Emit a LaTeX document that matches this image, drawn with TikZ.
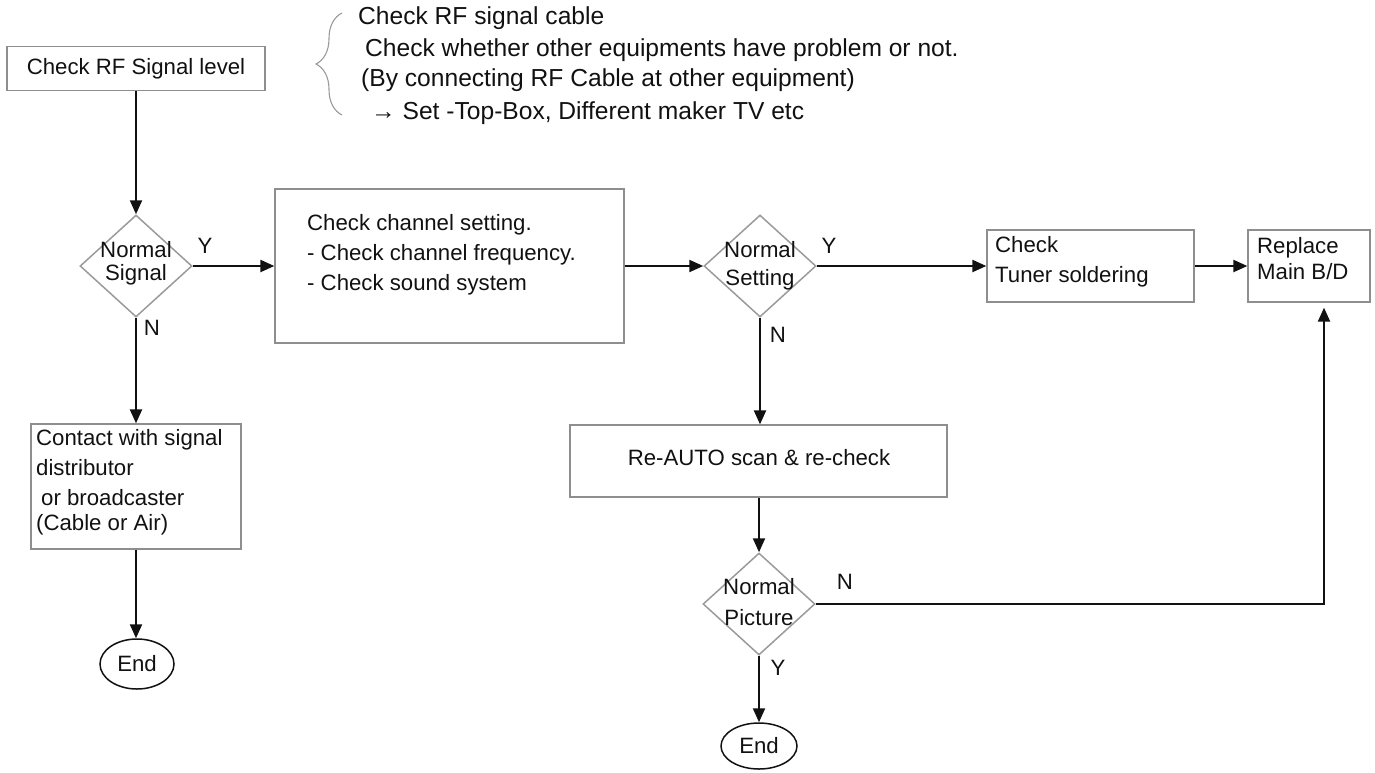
\documentclass[tikz,border=0pt]{standalone}
\usepackage{fontspec}
\setmainfont{Liberation Sans}
\usetikzlibrary{arrows.meta,shapes.geometric,decorations.pathreplacing}
\definecolor{boxgray}{HTML}{8E8E8E}
\definecolor{dgray}{HTML}{9A9A9A}
\definecolor{ink}{HTML}{111111}
\begin{document}
\begin{tikzpicture}[x=1pt,y=-1pt,
  txt/.style={font=\fontsize{22.2}{26}\selectfont, inner sep=0pt, text=ink},
  note/.style={font=\fontsize{24.6}{28}\selectfont, inner sep=0pt, text=ink, anchor=west},
  boxnode/.style={draw=boxgray, line width=1.3pt, inner sep=0pt, txt},
  decision/.style={diamond, draw=dgray, line width=1.5pt, inner sep=0pt,
    minimum width=112pt, minimum height=102pt},
  terminal/.style={ellipse, draw=ink, line width=1.5pt, inner sep=0pt,
    minimum width=75pt, minimum height=48pt, txt},
  flow/.style={-{Triangle[length=14pt,width=12pt]}, line width=2.2pt, draw=ink},
  yn/.style={txt, anchor=center},
]
\useasboundingbox (0,0) rectangle (1375,772);

% boxes
\node[boxnode, minimum width=258pt, minimum height=44pt] (start) at (136,68.5) {Check RF Signal level};
\node[boxnode, minimum width=349pt, minimum height=154pt] (chan) at (449.5,266) {};
\node[boxnode, minimum width=210pt, minimum height=125pt] (contact) at (136,486.5) {};
\node[boxnode, minimum width=207pt, minimum height=72pt] (tuner) at (1090.5,266) {};
\node[boxnode, minimum width=122pt, minimum height=72pt] (replace) at (1309,266) {};
\node[boxnode, minimum width=377pt, minimum height=72pt] (rescan) at (758.5,461) {};

% decisions
\node[decision] (d1) at (136,266) {};
\node[decision] (d2) at (760,266) {};
\node[decision] (d3) at (759,604) {};

% terminals
\node[terminal, minimum width=74pt, minimum height=50pt] (end1) at (137,664) {End};
\node[terminal, minimum width=76pt, minimum height=46pt] (end2) at (759,746) {End};

% texts inside shapes
\node[txt, anchor=west] (c1) at (307,225) {Check channel setting.};
\node[txt, anchor=west] (c2) at (307,255) {- Check channel frequency.};
\node[txt, anchor=west] (c3) at (307,285) {- Check sound system};

\node[txt, anchor=west] (k1) at (36,440) {Contact with signal};
\node[txt, anchor=west] (k2) at (36,468) {distributor};
\node[txt, anchor=west] (k3) at (41,498) {or broadcaster};
\node[txt, anchor=west] (k4) at (36,525) {(Cable or Air)};

\node[txt, anchor=west] (u1) at (995,245) {Check};
\node[txt, anchor=west] (u2) at (995,277) {Tuner soldering};

\node[txt, anchor=west] (r1) at (1257,248) {Replace};
\node[txt, anchor=west] (r2) at (1257,272) {Main B/D};

\node[txt] (rs) at (759,458) {Re-AUTO scan \& re-check};

\node[txt] (n1a) at (136,250) {Normal};
\node[txt] (n1b) at (136,275) {Signal};
\node[txt] (n2a) at (760,250) {Normal};
\node[txt] (n2b) at (760,280) {Setting};
\node[txt] (n3a) at (759,587) {Normal};
\node[txt] (n3b) at (759,618) {Picture};

% notes beside the first step
\draw[dgray, line width=1.1pt, decorate,
  decoration={brace, amplitude=26pt, aspect=0.5}] (342,115) -- (342,13);
\node[note] (m1) at (358,18) {Check RF signal cable};
\node[note] (m2) at (365,50) {Check whether other equipments have problem or not.};
\node[note] (m3) at (361,80) {(By connecting RF Cable at other equipment)};
\node[note] (m4) at (371,113) {→ Set -Top-Box, Different maker TV etc};

% connectors
\draw[flow] (start) -- (d1);
\draw[flow] (d1.east) -- (chan.west);
\draw[flow] (chan.east) -- (d2.west);
\draw[flow] (d2.east) -- (tuner.west);
\draw[flow] (tuner.east) -- (replace.west);
\draw[flow] (d1.south) -- (contact.north);
\draw[flow] (contact.south) -- (end1.north -| contact.south);
\draw[flow] (d2.south) -- (d2.south |- rescan.north);
\draw[flow] (d3.north |- rescan.south) -- (d3.north);
\draw[flow] (d3.south) -- (end2.north);
\coordinate (bend) at (1324,604);
\draw[flow, shorten >=5pt] (d3.east) -- (bend) -- (bend |- replace.south);

% branch labels
\node[yn] (y1) at (205,246) {Y};
\node[yn] (no1) at (152,328) {N};
\node[yn] (y2) at (829,246) {Y};
\node[yn] (no2) at (778,335) {N};
\node[yn] (no3) at (845,582) {N};
\node[yn] (y3) at (778,668) {Y};
\end{tikzpicture}
\end{document}
